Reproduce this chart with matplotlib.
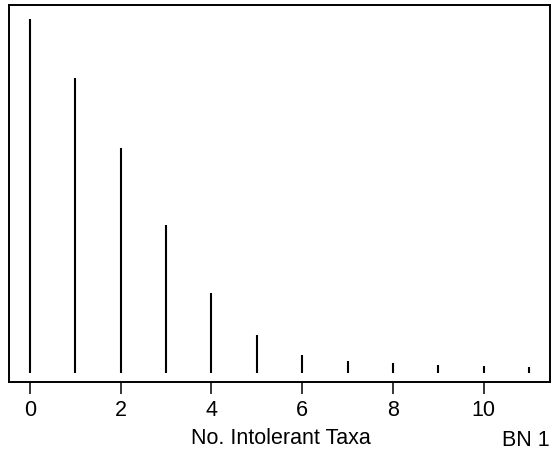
import matplotlib
matplotlib.use("Agg")
import matplotlib.pyplot as plt

# Data (relative frequencies)
taxa = [0, 1, 2, 3, 4, 5, 6, 7, 8, 9, 10, 11]
freq = [354.3, 295.3, 225.3, 148.6, 80.6, 38.0, 18.0, 12.0, 10.0, 8.3, 7.3, 6.3]
xticks = [0, 2, 4, 6, 8, 10]
xlabel = "No. Intolerant Taxa"
corner_label = "BN 1"

plt.rcParams['font.family'] = ['Liberation Sans', 'DejaVu Sans']

W, H = 555, 453
fig = plt.figure(figsize=(W / 100, H / 100), dpi=100)
left, right, top, bottom = 9, 549.7, 5, 381.7
ax = fig.add_axes([left / W, 1 - bottom / H, (right - left) / W, (bottom - top) / H])

ax.vlines(taxa, 0, freq, colors='black', linewidth=1.5)

ax.set_xlim(-0.46, 11.45)
ax.set_ylim(-8.4, max(freq) + 14)
ax.set_xticks(xticks)
ax.set_xticklabels([str(t) for t in xticks], fontsize=15.5)
ax.tick_params(axis='x', direction='out', length=8.6, width=1.1, pad=4.5, colors='black')
ax.set_yticks([])
for s in ax.spines.values():
    s.set_linewidth(1.4)
    s.set_color('black')

fig.text((left + right) / 2 / W + 1.5 / W, 1 - 438 / H, xlabel, ha='center', va='center', fontsize=15.5)
fig.text(502 / W, 1 - 446 / H, corner_label, ha='left', va='baseline', fontsize=15.5)

fig.savefig("out.png", dpi=100)
